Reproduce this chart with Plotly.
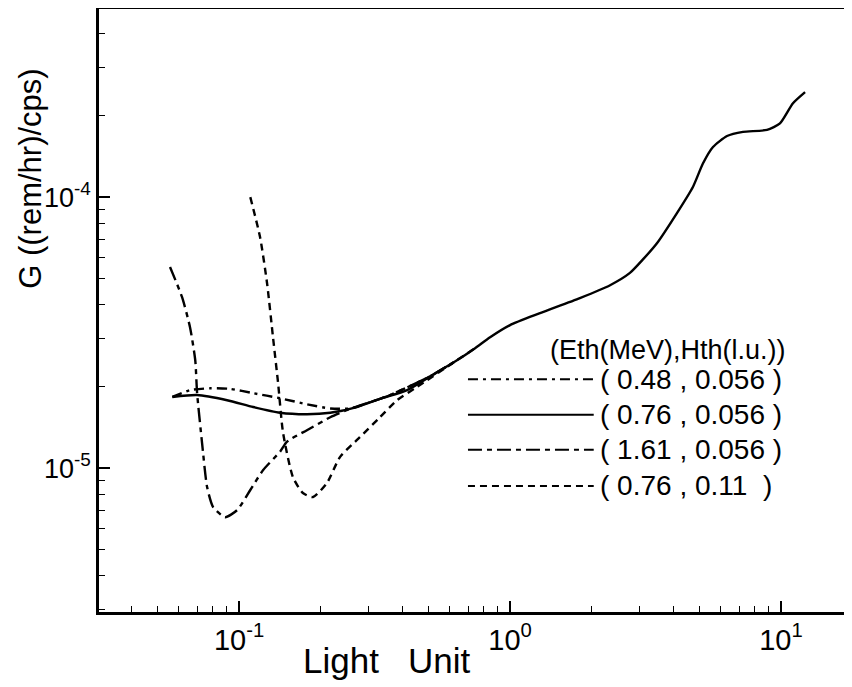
import plotly.graph_objects as go

# ---- data (Light Unit, G in (rem/hr)/cps) ----
tail_x = [0.417, 0.507, 0.637, 0.743, 0.844, 1.0, 1.29, 1.81, 2.34, 2.77, 3.1, 3.49, 4.13, 4.73, 5.15,
          5.61, 6.32, 7.24, 8.88, 9.91, 11.07, 12.27]
tail_y = [1.94e-5, 2.18e-5, 2.50e-5, 2.77e-5, 3.04e-5, 3.37e-5, 3.73e-5, 4.24e-5, 4.73e-5, 5.25e-5, 5.9e-5,
          6.77e-5, 8.73e-5, 1.09e-4, 1.33e-4, 1.53e-4, 1.68e-4, 1.74e-4, 1.77e-4, 1.87e-4, 2.22e-4, 2.44e-4]

s048_x = [0.0567, 0.0659, 0.0782, 0.0927, 0.1127, 0.1417, 0.178, 0.217, 0.257, 0.304, 0.361]
s048_y = [1.83e-5, 1.94e-5, 1.97e-5, 1.96e-5, 1.89e-5, 1.81e-5, 1.72e-5, 1.66e-5, 1.66e-5, 1.75e-5, 1.86e-5]

s076_x = [0.0567, 0.0700, 0.0903, 0.1127, 0.1417, 0.178, 0.217, 0.272, 0.331]
s076_y = [1.83e-5, 1.86e-5, 1.78e-5, 1.68e-5, 1.60e-5, 1.58e-5, 1.60e-5, 1.68e-5, 1.80e-5]

s161_x = [0.0556, 0.0616, 0.0659, 0.0689, 0.0700, 0.0730, 0.0762, 0.0802, 0.0888, 0.0984, 0.110,
          0.1227, 0.1417, 0.150, 0.178, 0.217, 0.251, 0.304, 0.361]
s161_y = [5.52e-5, 4.27e-5, 3.31e-5, 2.50e-5, 1.89e-5, 1.24e-5, 8.51e-6, 7.18e-6, 6.59e-6, 7.00e-6,
          8.30e-6, 9.84e-6, 1.15e-5, 1.25e-5, 1.38e-5, 1.54e-5, 1.64e-5, 1.75e-5, 1.86e-5]

s011_x = [0.110, 0.1195, 0.1268, 0.1334, 0.1393, 0.1453, 0.158, 0.172, 0.1875, 0.211, 0.236, 0.279,
          0.331, 0.383, 0.446]
s011_y = [1.0e-4, 7.12e-5, 4.82e-5, 3.04e-5, 2.06e-5, 1.35e-5, 9.26e-6, 8.09e-6, 7.82e-6, 8.81e-6,
          1.10e-5, 1.30e-5, 1.54e-5, 1.78e-5, 1.97e-5]

legend_title = "(Eth(MeV),Hth(l.u.))"
legend_labels = ["( 0.48 , 0.056 )", "( 0.76 , 0.056 )", "( 1.61 , 0.056 )", "( 0.76 , 0.11  )"]
x_tickvals = [0.1, 1, 10]
x_ticktext = ["10<sup>-1</sup>", "10<sup>0</sup>", "10<sup>1</sup>"]
y_tickvals = [1e-5, 1e-4]
y_ticktext = ["10<sup>-5</sup>", "10<sup>-4</sup>"]

FONT = "Liberation Sans, Arial, sans-serif"
dashes = ["10px,5px,3px,5px", "solid", "14px,5px,5px,5px", "7px,5px"]

fig = go.Figure()
series = [
    (s048_x + tail_x[1:3], s048_y + tail_y[1:3]),
    (s076_x + tail_x, s076_y + tail_y),
    (s161_x + tail_x[1:3], s161_y + tail_y[1:3]),
    (s011_x + tail_x[2:4], s011_y + tail_y[2:4]),
]
order = [3, 2, 0, 1]
for i in order:
    xs, ys = series[i]
    fig.add_trace(go.Scatter(x=xs, y=ys, mode="lines", line=dict(color="black", width=2.4, dash=dashes[i],
                                                               shape="spline", smoothing=0.6),
                             showlegend=False, hoverinfo="skip"))

# minor tick positions
minor_x = [m * 10 ** e for e in (-2, -1, 0, 1) for m in range(2, 10)]
minor_y = [m * 10 ** e for e in (-6, -5, -4) for m in range(2, 10)]

fig.update_xaxes(type="log", range=[-1.517, 1.262], tickvals=x_tickvals, ticktext=x_ticktext,
                 ticks="inside", ticklen=11, tickwidth=1.5, tickcolor="black",
                 minor=dict(tickvals=minor_x, ticks="inside", ticklen=6, tickwidth=1.2, tickcolor="black"),
                 showline=True, linecolor="black", linewidth=2.5, mirror=True, showgrid=False,
                 zeroline=False, tickfont=dict(family=FONT, size=29, color="black"), automargin=False,
                 ticklabelstandoff=0)
fig.update_yaxes(type="log", range=[-5.531, -3.306], tickvals=y_tickvals, ticktext=y_ticktext,
                 ticks="inside", ticklen=11, tickwidth=1.5, tickcolor="black",
                 minor=dict(tickvals=minor_y, ticks="inside", ticklen=6, tickwidth=1.2, tickcolor="black"),
                 showline=True, linecolor="black", linewidth=2.5, mirror=False, showgrid=False,
                 zeroline=False, tickfont=dict(family=FONT, size=27, color="black"), ticklabelstandoff=0,
                 automargin=False)

annotations = [
    dict(text="G ((rem/hr)/cps)", x=-0.092, y=0.718, xref="paper", yref="paper", textangle=-90,
         showarrow=False, font=dict(family=FONT, size=31, color="black"), xanchor="center", yanchor="middle"),
    dict(text="Light   Unit", x=0.383, y=-0.080, xref="paper", yref="paper", showarrow=False,
         font=dict(family=FONT, size=35, color="black"), xanchor="center", yanchor="middle"),
    dict(text=legend_title, x=0.596, y=0.4345, xref="paper", yref="paper", showarrow=False,
         font=dict(family=FONT, size=27, color="black"), xanchor="left", yanchor="middle"),
]
shapes = []
rows_y = [0.386, 0.327, 0.269, 0.209]
for lab, ry, dsh in zip(legend_labels, rows_y, dashes):
    annotations.append(dict(text=lab, x=0.663, y=ry, xref="paper", yref="paper", showarrow=False,
                            font=dict(family=FONT, size=28, color="black"), xanchor="left", yanchor="middle"))
    shapes.append(dict(type="line", xref="paper", yref="paper", x0=0.490, x1=0.657, y0=ry, y1=ry,
                       line=dict(color="black", width=2, dash=dsh)))

fig.update_layout(width=844, height=679, margin=dict(l=91, r=0, t=1, b=75),
                  paper_bgcolor="white", plot_bgcolor="white", annotations=annotations, shapes=shapes,
                  font=dict(family=FONT, color="black"))

fig.write_html("out.html")
